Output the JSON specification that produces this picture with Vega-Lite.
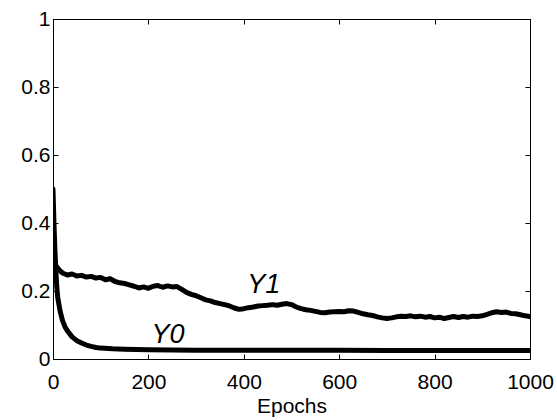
{
  "$schema": "https://vega.github.io/schema/vega-lite/v6.json",
  "width": 477,
  "height": 340,
  "autosize": {"type": "none"},
  "padding": {"left": 53, "top": 19, "right": 27, "bottom": 61},
  "background": "white",
  "config": {
    "font": "Liberation Sans",
    "view": {"stroke": "black", "strokeWidth": 1},
    "axis": {
      "grid": false,
      "domainColor": "black",
      "tickColor": "black",
      "tickSize": -5,
      "labelColor": "black",
      "labelFont": "Liberation Sans",
      "labelFontSize": 21,
      "titleFont": "Liberation Sans",
      "titleFontSize": 21,
      "titleFontWeight": "normal",
      "titleColor": "black"
    }
  },
  "datasets": {
    "curves": [
      {"epoch": 0, "value": 0.50, "series": "Y0"},
      {"epoch": 1, "value": 0.45, "series": "Y0"},
      {"epoch": 2, "value": 0.40, "series": "Y0"},
      {"epoch": 4, "value": 0.32, "series": "Y0"},
      {"epoch": 6, "value": 0.26, "series": "Y0"},
      {"epoch": 8, "value": 0.21, "series": "Y0"},
      {"epoch": 10, "value": 0.18, "series": "Y0"},
      {"epoch": 15, "value": 0.14, "series": "Y0"},
      {"epoch": 20, "value": 0.113, "series": "Y0"},
      {"epoch": 25, "value": 0.095, "series": "Y0"},
      {"epoch": 30, "value": 0.083, "series": "Y0"},
      {"epoch": 40, "value": 0.065, "series": "Y0"},
      {"epoch": 50, "value": 0.054, "series": "Y0"},
      {"epoch": 60, "value": 0.047, "series": "Y0"},
      {"epoch": 70, "value": 0.041, "series": "Y0"},
      {"epoch": 80, "value": 0.037, "series": "Y0"},
      {"epoch": 90, "value": 0.034, "series": "Y0"},
      {"epoch": 100, "value": 0.032, "series": "Y0"},
      {"epoch": 125, "value": 0.030, "series": "Y0"},
      {"epoch": 150, "value": 0.029, "series": "Y0"},
      {"epoch": 200, "value": 0.027, "series": "Y0"},
      {"epoch": 300, "value": 0.026, "series": "Y0"},
      {"epoch": 400, "value": 0.026, "series": "Y0"},
      {"epoch": 500, "value": 0.026, "series": "Y0"},
      {"epoch": 600, "value": 0.026, "series": "Y0"},
      {"epoch": 700, "value": 0.025, "series": "Y0"},
      {"epoch": 800, "value": 0.025, "series": "Y0"},
      {"epoch": 900, "value": 0.025, "series": "Y0"},
      {"epoch": 1000, "value": 0.025, "series": "Y0"},
      {"epoch": 0, "value": 0.30, "series": "Y1"},
      {"epoch": 2, "value": 0.29, "series": "Y1"},
      {"epoch": 5, "value": 0.277, "series": "Y1"},
      {"epoch": 10, "value": 0.267, "series": "Y1"},
      {"epoch": 15, "value": 0.259, "series": "Y1"},
      {"epoch": 20, "value": 0.253, "series": "Y1"},
      {"epoch": 30, "value": 0.247, "series": "Y1"},
      {"epoch": 40, "value": 0.250, "series": "Y1"},
      {"epoch": 50, "value": 0.244, "series": "Y1"},
      {"epoch": 60, "value": 0.246, "series": "Y1"},
      {"epoch": 70, "value": 0.241, "series": "Y1"},
      {"epoch": 80, "value": 0.243, "series": "Y1"},
      {"epoch": 90, "value": 0.238, "series": "Y1"},
      {"epoch": 100, "value": 0.240, "series": "Y1"},
      {"epoch": 110, "value": 0.233, "series": "Y1"},
      {"epoch": 120, "value": 0.236, "series": "Y1"},
      {"epoch": 130, "value": 0.228, "series": "Y1"},
      {"epoch": 140, "value": 0.224, "series": "Y1"},
      {"epoch": 150, "value": 0.222, "series": "Y1"},
      {"epoch": 160, "value": 0.218, "series": "Y1"},
      {"epoch": 170, "value": 0.214, "series": "Y1"},
      {"epoch": 180, "value": 0.209, "series": "Y1"},
      {"epoch": 190, "value": 0.212, "series": "Y1"},
      {"epoch": 200, "value": 0.208, "series": "Y1"},
      {"epoch": 210, "value": 0.214, "series": "Y1"},
      {"epoch": 220, "value": 0.216, "series": "Y1"},
      {"epoch": 230, "value": 0.211, "series": "Y1"},
      {"epoch": 240, "value": 0.215, "series": "Y1"},
      {"epoch": 250, "value": 0.212, "series": "Y1"},
      {"epoch": 260, "value": 0.213, "series": "Y1"},
      {"epoch": 270, "value": 0.205, "series": "Y1"},
      {"epoch": 280, "value": 0.196, "series": "Y1"},
      {"epoch": 290, "value": 0.190, "series": "Y1"},
      {"epoch": 300, "value": 0.186, "series": "Y1"},
      {"epoch": 310, "value": 0.180, "series": "Y1"},
      {"epoch": 320, "value": 0.174, "series": "Y1"},
      {"epoch": 330, "value": 0.171, "series": "Y1"},
      {"epoch": 340, "value": 0.166, "series": "Y1"},
      {"epoch": 350, "value": 0.163, "series": "Y1"},
      {"epoch": 360, "value": 0.160, "series": "Y1"},
      {"epoch": 370, "value": 0.156, "series": "Y1"},
      {"epoch": 380, "value": 0.150, "series": "Y1"},
      {"epoch": 390, "value": 0.146, "series": "Y1"},
      {"epoch": 400, "value": 0.148, "series": "Y1"},
      {"epoch": 410, "value": 0.151, "series": "Y1"},
      {"epoch": 420, "value": 0.153, "series": "Y1"},
      {"epoch": 430, "value": 0.156, "series": "Y1"},
      {"epoch": 440, "value": 0.157, "series": "Y1"},
      {"epoch": 450, "value": 0.158, "series": "Y1"},
      {"epoch": 460, "value": 0.160, "series": "Y1"},
      {"epoch": 470, "value": 0.158, "series": "Y1"},
      {"epoch": 480, "value": 0.161, "series": "Y1"},
      {"epoch": 490, "value": 0.163, "series": "Y1"},
      {"epoch": 500, "value": 0.160, "series": "Y1"},
      {"epoch": 510, "value": 0.153, "series": "Y1"},
      {"epoch": 520, "value": 0.148, "series": "Y1"},
      {"epoch": 530, "value": 0.145, "series": "Y1"},
      {"epoch": 540, "value": 0.143, "series": "Y1"},
      {"epoch": 550, "value": 0.140, "series": "Y1"},
      {"epoch": 560, "value": 0.137, "series": "Y1"},
      {"epoch": 570, "value": 0.136, "series": "Y1"},
      {"epoch": 580, "value": 0.138, "series": "Y1"},
      {"epoch": 590, "value": 0.139, "series": "Y1"},
      {"epoch": 600, "value": 0.140, "series": "Y1"},
      {"epoch": 610, "value": 0.139, "series": "Y1"},
      {"epoch": 620, "value": 0.142, "series": "Y1"},
      {"epoch": 630, "value": 0.141, "series": "Y1"},
      {"epoch": 640, "value": 0.137, "series": "Y1"},
      {"epoch": 650, "value": 0.133, "series": "Y1"},
      {"epoch": 660, "value": 0.130, "series": "Y1"},
      {"epoch": 670, "value": 0.128, "series": "Y1"},
      {"epoch": 680, "value": 0.124, "series": "Y1"},
      {"epoch": 690, "value": 0.121, "series": "Y1"},
      {"epoch": 700, "value": 0.119, "series": "Y1"},
      {"epoch": 710, "value": 0.121, "series": "Y1"},
      {"epoch": 720, "value": 0.124, "series": "Y1"},
      {"epoch": 730, "value": 0.126, "series": "Y1"},
      {"epoch": 740, "value": 0.125, "series": "Y1"},
      {"epoch": 750, "value": 0.127, "series": "Y1"},
      {"epoch": 760, "value": 0.124, "series": "Y1"},
      {"epoch": 770, "value": 0.126, "series": "Y1"},
      {"epoch": 780, "value": 0.123, "series": "Y1"},
      {"epoch": 790, "value": 0.125, "series": "Y1"},
      {"epoch": 800, "value": 0.121, "series": "Y1"},
      {"epoch": 810, "value": 0.123, "series": "Y1"},
      {"epoch": 820, "value": 0.119, "series": "Y1"},
      {"epoch": 830, "value": 0.122, "series": "Y1"},
      {"epoch": 840, "value": 0.125, "series": "Y1"},
      {"epoch": 850, "value": 0.122, "series": "Y1"},
      {"epoch": 860, "value": 0.125, "series": "Y1"},
      {"epoch": 870, "value": 0.123, "series": "Y1"},
      {"epoch": 880, "value": 0.126, "series": "Y1"},
      {"epoch": 890, "value": 0.125, "series": "Y1"},
      {"epoch": 900, "value": 0.127, "series": "Y1"},
      {"epoch": 910, "value": 0.131, "series": "Y1"},
      {"epoch": 920, "value": 0.136, "series": "Y1"},
      {"epoch": 930, "value": 0.139, "series": "Y1"},
      {"epoch": 940, "value": 0.137, "series": "Y1"},
      {"epoch": 950, "value": 0.138, "series": "Y1"},
      {"epoch": 960, "value": 0.134, "series": "Y1"},
      {"epoch": 970, "value": 0.133, "series": "Y1"},
      {"epoch": 980, "value": 0.130, "series": "Y1"},
      {"epoch": 990, "value": 0.127, "series": "Y1"},
      {"epoch": 1000, "value": 0.125, "series": "Y1"}
    ],
    "labels": [
      {"epoch": 442, "value": 0.194, "label": "Y1"},
      {"epoch": 241, "value": 0.047, "label": "Y0"}
    ]
  },
  "layer": [
    {
      "data": {"name": "curves"},
      "mark": {"type": "line", "color": "black", "strokeWidth": 5, "strokeJoin": "round", "strokeCap": "round", "clip": true},
      "encoding": {
        "x": {
          "field": "epoch", "type": "quantitative",
          "scale": {"domain": [0, 1000], "nice": false},
          "axis": {"orient": "bottom", "title": "Epochs", "values": [0, 200, 400, 600, 800, 1000], "format": "d", "labelFlush": false, "labelOverlap": false, "labelPadding": 17, "titlePadding": 3}
        },
        "y": {
          "field": "value", "type": "quantitative",
          "scale": {"domain": [0, 1], "nice": false, "zero": false},
          "axis": {"orient": "left", "title": null, "values": [0, 0.2, 0.4, 0.6, 0.8, 1], "format": "~g", "labelPadding": 8}
        },
        "detail": {"field": "series"}
      }
    },
    {
      "data": {"name": "labels"},
      "mark": {"type": "text", "fontStyle": "italic", "fontSize": 27, "font": "Liberation Sans", "align": "center", "baseline": "alphabetic", "color": "black"},
      "encoding": {
        "x": {"field": "epoch", "type": "quantitative", "axis": null},
        "y": {"field": "value", "type": "quantitative", "axis": null},
        "text": {"field": "label"}
      }
    },
    {
      "data": {"name": "curves"},
      "mark": {"type": "line", "opacity": 0},
      "encoding": {
        "x": {"field": "epoch", "type": "quantitative", "axis": {"orient": "top", "title": null, "labels": false, "values": [0, 200, 400, 600, 800, 1000]}},
        "y": {"field": "value", "type": "quantitative", "axis": {"orient": "right", "title": null, "labels": false, "values": [0, 0.2, 0.4, 0.6, 0.8, 1]}},
        "detail": {"field": "series"}
      }
    }
  ],
  "resolve": {"axis": {"x": "independent", "y": "independent"}}
}
